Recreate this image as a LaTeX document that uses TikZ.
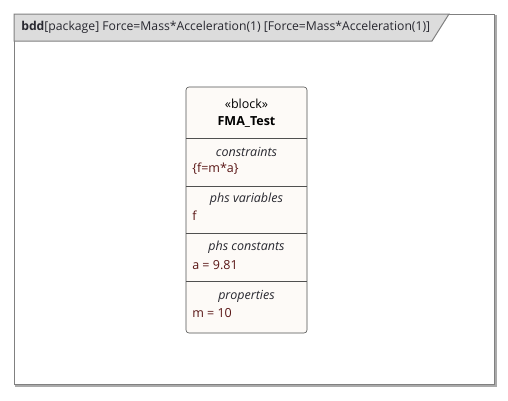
\documentclass[tikz,border=0pt]{standalone}
\usepackage{fontspec}
\setmainfont{Open Sans}
\usepackage{tikz}
\usetikzlibrary{positioning}

\definecolor{framegray}{RGB}{128,128,128}
\definecolor{shadowgray}{RGB}{170,170,170}
\definecolor{headgray}{RGB}{220,220,220}
\definecolor{blockfill}{RGB}{253,250,247}
\definecolor{blockline}{RGB}{80,80,80}
\definecolor{valuered}{RGB}{90,22,22}
\definecolor{headtext}{RGB}{40,40,48}

\begin{document}
\begin{tikzpicture}[x=1pt, y=-1pt, semithick,
    every node/.style={inner sep=0pt, font=\fontsize{12.5}{15}\selectfont},
    heading/.style={font=\fontsize{12.5}{15}\selectfont\itshape, text=headtext},
    value/.style={anchor=west, text=valuered}]
    \useasboundingbox (0,0) rectangle (508,400);
    % diagram frame
    \draw[shadowgray, line width=1.5pt] (16,16) rectangle (496,386);
    \draw[framegray, fill=white, line width=1pt] (14,14) rectangle (494,384);
    \draw[framegray, fill=headgray, line width=1pt] (14,14) -- (449,14) -- (432,41) -- (14,41) -- cycle;
    \node[anchor=west, text=headtext, font=\fontsize{12.2}{15}\selectfont] (title) at (21,27.5) {\textbf{bdd}[package] Force=Mass*Acceleration(1) [Force=Mass*Acceleration(1)]};
    % block
    \draw[blockline, fill=blockfill, rounded corners=3pt] (186,87) rectangle (307,333);
    \foreach \y in {138,186,233,281}
        \draw[blockline] (186,\y) -- (307,\y);
    \node (stereo) at (246.5,104) {«block»};
    \node[font=\fontsize{12.5}{15}\selectfont\bfseries] (name) at (246.5,122) {FMA\_Test};
    \node[heading] (constr) at (246.5,152) {constraints};
    \node[value] (fma) at (192,169) {\{f=m*a\}};
    \node[heading] (vars) at (246.5,199) {phs variables};
    \node[value] (f) at (192,216) {f};
    \node[heading] (consts) at (246.5,247) {phs constants};
    \node[value] (a) at (192,265) {a = 9.81};
    \node[heading] (props) at (246.5,296) {properties};
    \node[value] (m) at (192,313) {m = 10};
\end{tikzpicture}
\end{document}
